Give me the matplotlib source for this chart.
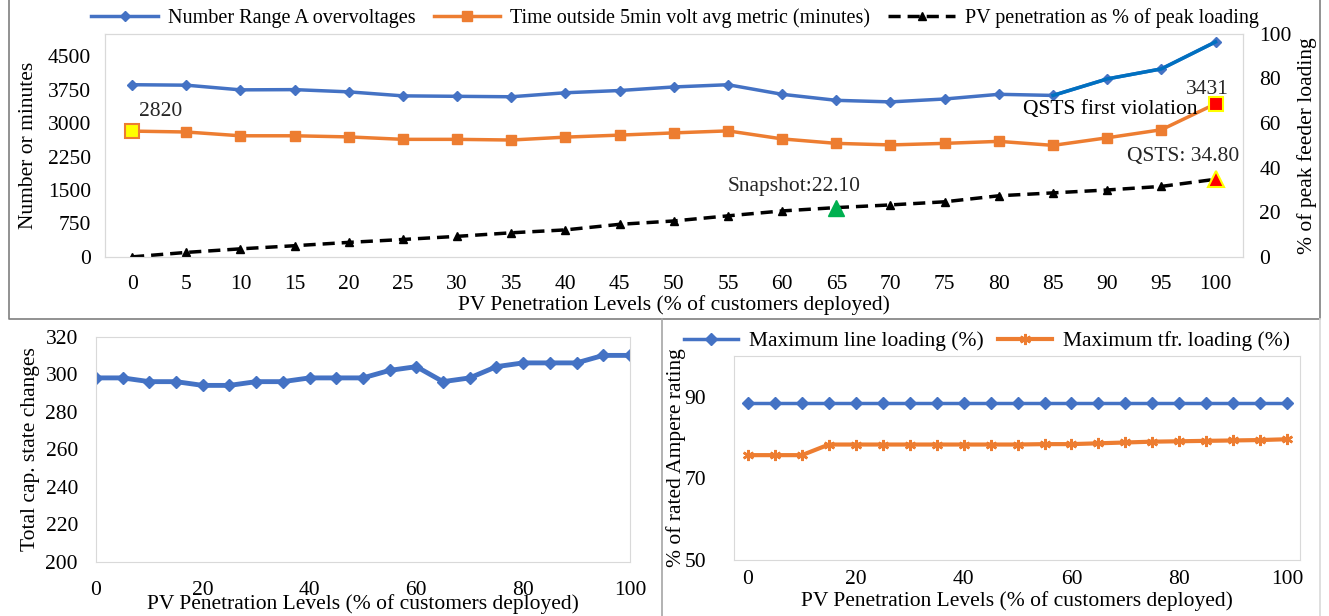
import numpy as np
import matplotlib.pyplot as plt
from matplotlib.lines import Line2D

plt.rcParams['font.family'] = ['Liberation Serif', 'DejaVu Serif']

levels = [0, 5, 10, 15, 20, 25, 30, 35, 40, 45, 50, 55, 60, 65, 70, 75, 80, 85, 90, 95, 100]

overvoltages = [3860, 3850, 3745, 3750, 3700, 3610, 3600, 3590, 3680, 3730, 3810,
                3860, 3645, 3510, 3475, 3540, 3645, 3620, 3990, 4215, 4820]
time_outside = [2820, 2800, 2715, 2715, 2690, 2635, 2635, 2620, 2685, 2730, 2780,
                2825, 2645, 2545, 2510, 2545, 2590, 2500, 2670, 2850, 3431]
pv_peak = [0.0, 2.0, 3.6, 5.0, 6.5, 7.8, 9.2, 10.8, 12.1, 14.6, 16.1,
           18.4, 20.6, 22.1, 23.3, 24.7, 27.4, 28.7, 30.0, 31.6, 34.8]

cap_changes = [298, 298, 296, 296, 294, 294, 296, 296, 298, 298, 298,
               302, 304, 296, 298, 304, 306, 306, 306, 310, 310]

line_loading = [88.4] * 21
tfr_loading = [75.7, 75.7, 75.7, 78.3, 78.3, 78.3, 78.3, 78.3, 78.3, 78.3, 78.3,
               78.4, 78.4, 78.6, 78.8, 79.0, 79.1, 79.2, 79.3, 79.4, 79.6]

blue = '#4472C4'
orange = '#ED7D31'
frame = '#D9D9D9'
txt = '#262626'

fig = plt.figure(figsize=(13.29, 6.16), dpi=100)

# ---- top panel ----
ax = fig.add_axes([0.079, 0.583, 0.856, 0.362])
ax2 = ax.twinx()
idx = np.arange(len(levels))

ax.plot(idx, overvoltages, color=blue, lw=2.5, marker='D', ms=5, label='Number Range A overvoltages')
ax.plot(idx[17:], overvoltages[17:], color='#0070C0', lw=2.5)
ax.plot(idx, time_outside, color=orange, lw=2.5, marker='s', ms=7, label='Time outside 5min volt avg metric (minutes)')
ax.plot(0, time_outside[0], ls='none', marker='s', ms=10, mfc='#FFFF00', mec=orange, mew=1.5)
ax.plot(20, time_outside[20], ls='none', marker='s', ms=10, mfc='#FF0000', mec='#FFFF00', mew=1.5)

ax2.plot(idx, pv_peak, color='black', lw=2.5, ls=(0, (3.5, 2)), marker='^', ms=6,
         label='PV penetration as % of peak loading')
ax2.plot(13, pv_peak[13], ls='none', marker='^', ms=11, mfc='#00B050', mec='#00B050')
ax2.plot(20, pv_peak[20], ls='none', marker='^', ms=12, mfc='#FF0000', mec='#FFFF00', mew=1.5)

ax.set_xlim(-0.5, 20.5)
ax.set_ylim(0, 5000)
ax2.set_ylim(0, 100)
ax.set_xticks(idx)
ax.set_xticklabels([str(v) for v in levels])
ax.set_yticks(np.arange(0, 4501, 750))
ax2.set_yticks(np.arange(0, 101, 20))
ax.tick_params(axis='x', length=0, labelsize=15.5, pad=13)
ax.tick_params(axis='y', length=0, labelsize=15.5, pad=10)
ax2.tick_params(length=0, labelsize=15.5, pad=12)
for a in (ax, ax2):
    for s in a.spines.values():
        s.set_color(frame)
ax.set_xlabel('PV Penetration Levels (% of customers deployed)', fontsize=15.5, labelpad=1)
ax.set_ylabel('Number or minutes', fontsize=15.5, labelpad=7)
ax2.set_ylabel('% of peak feeder loading', fontsize=15.5, labelpad=4)

ax.text(0.13, 3270, '2820', fontsize=15.5, color=txt, ha='left', va='center')
ax.text(19.85, 3744, '3431', fontsize=15.5, color=txt, ha='center', va='center')
ax.text(18.05, 3296, 'QSTS first violation', fontsize=15.5, color='black', ha='center', va='center')
ax2.text(12.22, 31.4, 'Snapshot:22.10', fontsize=15.5, color=txt, ha='center', va='center')
ax2.text(19.4, 44.8, 'QSTS: 34.80', fontsize=15.5, color=txt, ha='center', va='center')

h1, l1 = ax.get_legend_handles_labels()
h2, l2 = ax2.get_legend_handles_labels()
fig.legend(h1 + h2, l1 + l2, loc='center', bbox_to_anchor=(0.508, 0.97), ncol=3, frameon=False,
           fontsize=14.5, handlelength=3.3, columnspacing=0.9, handletextpad=0.5)

# ---- bottom left ----
bl = fig.add_axes([0.0722, 0.0882, 0.4018, 0.3653])
bl.plot(levels, cap_changes, color=blue, lw=3.5, marker='D', ms=6)
bl.set_xlim(0, 100)
bl.set_ylim(200, 320)
bl.set_xticks(np.arange(0, 101, 20))
bl.set_yticks(np.arange(200, 321, 20))
bl.tick_params(axis='x', length=0, labelsize=15.5, pad=14)
bl.tick_params(axis='y', length=0, labelsize=15.5, pad=13)
for s in bl.spines.values():
    s.set_color(frame)
bl.set_xlabel('PV Penetration Levels (% of customers deployed)', fontsize=15.5, labelpad=-4)
bl.set_ylabel('Total cap. state changes', fontsize=15.5, labelpad=4)

# ---- bottom right ----
br = fig.add_axes([0.5523, 0.0909, 0.4259, 0.3312])
br.plot(levels, line_loading, color=blue, lw=2.5, marker='D', ms=6, label='Maximum line loading (%)')
br.plot(levels, tfr_loading, color=orange, lw=3, marker=(6, 2, 0), ms=8, mew=1.8,
        label='Maximum tfr. loading (%)')
br.set_xlim(-2.6, 102.4)
br.set_ylim(50, 100)
br.set_xticks(np.arange(0, 101, 20))
br.set_yticks([50, 70, 90])
br.tick_params(axis='x', length=0, labelsize=15.5, pad=7)
br.tick_params(axis='y', length=0, labelsize=15.5, pad=20)
for s in br.spines.values():
    s.set_color(frame)
br.set_xlabel('PV Penetration Levels (% of customers deployed)', fontsize=15.5, labelpad=2)
br.set_ylabel('% of rated Ampere rating', fontsize=15.5, labelpad=-1)
br.legend(loc='center', bbox_to_anchor=(0.7427, 0.446), bbox_transform=fig.transFigure, ncol=2,
          frameon=False, fontsize=15.5, handlelength=2.5, columnspacing=0.7, handletextpad=0.5)

# panel borders
fig.add_artist(Line2D([0.007, 0.007, 0.9933, 0.9933], [1.0, 0.482, 0.482, 1.0],
                      transform=fig.transFigure, color='#7F7F7F', lw=1.2))
fig.add_artist(Line2D([0.498, 0.498], [0.0, 0.482], transform=fig.transFigure, color='#A6A6A6', lw=1.2))
fig.add_artist(Line2D([0.9933, 0.9933], [0.0, 0.482], transform=fig.transFigure, color='#D9D9D9', lw=1.2))

fig.savefig('out.png', dpi=100)
